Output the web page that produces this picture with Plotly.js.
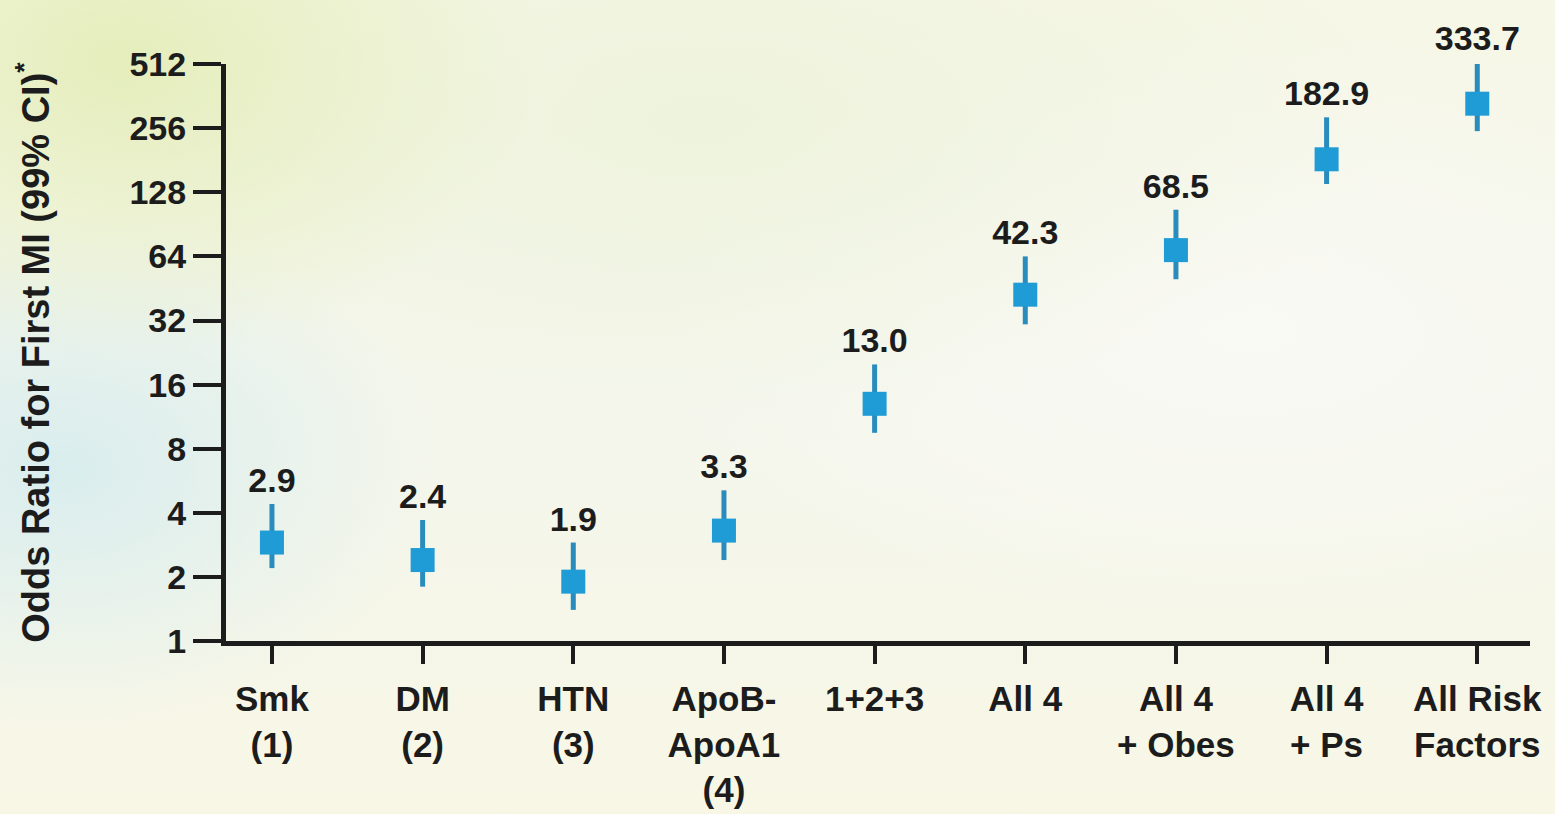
<!DOCTYPE html>
<html>
<head>
<meta charset="utf-8">
<script src="https://cdn.plot.ly/plotly-3.0.1.min.js"></script>
<style>
  html, body { margin: 0; padding: 0; width: 1555px; height: 814px; overflow: hidden; }
  body {
    background:
      radial-gradient(ellipse 420px 300px at 120px 60px, rgba(226,236,180,0.85), rgba(226,236,180,0) 100%),
      radial-gradient(ellipse 380px 260px at 60px 470px, rgba(214,236,238,0.9), rgba(214,236,238,0) 100%),
      radial-gradient(ellipse 700px 300px at 700px 120px, rgba(236,242,218,0.8), rgba(236,242,218,0) 100%),
      radial-gradient(ellipse 600px 300px at 1250px 330px, rgba(250,250,246,0.9), rgba(250,250,246,0) 100%),
      linear-gradient(180deg, #f6f7e6 0%, #f4f6ec 50%, #f8f7e6 100%);
  }
  #chart { width: 1555px; height: 814px; }
</style>
</head>
<body>
<div id="chart"></div>
<script>
// ---- data ----
const categories = ["Smk<br>(1)", "DM<br>(2)", "HTN<br>(3)", "ApoB-<br>ApoA1<br>(4)", "1+2+3", "All 4", "All 4<br>+ Obes", "All 4<br>+ Ps", "All Risk<br>Factors"];
const oddsRatio = [2.9, 2.4, 1.9, 3.3, 13.0, 42.3, 68.5, 182.9, 333.7];
const ciUpper = [4.4, 3.7, 2.9, 5.1, 19.9, 64, 106, 288, 523];
const ciLower = [2.2, 1.8, 1.4, 2.4, 9.5, 30.7, 50, 140, 248];
const valueLabels = ["2.9", "2.4", "1.9", "3.3", "13.0", "42.3", "68.5", "182.9", "333.7"];
const yTickVals = [1, 2, 4, 8, 16, 32, 64, 128, 256, 512];
const yTickText = ["1", "2", "4", "8", "16", "32", "64", "128", "256", "512"];

// ---- styles ----
const FONT = "Liberation Sans, Arial, sans-serif";
const INK = "#1c1c1c";
const BLUE = "#1f9bd6";
const BAR = "#2a8cbc";

// visible axis: 1..512 over the lower 90% of the plot height;
// hidden label axis: 1..1024 over the full height (same px per doubling)
const AXIS_TOP = 512;
const LABEL_AXIS_TOP = 1024;
const axisShare = Math.log(AXIS_TOP) / Math.log(LABEL_AXIS_TOP);

const pointTrace = {
  type: "scatter",
  mode: "markers",
  x: categories,
  y: oddsRatio,
  xaxis: "x",
  yaxis: "y",
  marker: { symbol: "square", size: 24, color: BLUE },
  error_y: {
    type: "data",
    symmetric: false,
    array: oddsRatio.map((v, i) => ciUpper[i] - v),
    arrayminus: oddsRatio.map((v, i) => v - ciLower[i]),
    color: BAR,
    thickness: 5,
    width: 0
  },
  cliponaxis: false,
  hoverinfo: "x+y"
};

const labelTrace = {
  type: "scatter",
  mode: "markers+text",
  x: categories,
  y: ciUpper,
  xaxis: "x",
  yaxis: "y2",
  text: valueLabels,
  textposition: "top center",
  texttemplate: "<b>%{text}</b>",
  textfont: { family: FONT, size: 34, color: INK },
  marker: { size: 4, opacity: 0, color: BLUE },
  cliponaxis: false,
  hoverinfo: "skip"
};

const layout = {
  width: 1555,
  height: 814,
  paper_bgcolor: "rgba(0,0,0,0)",
  plot_bgcolor: "rgba(0,0,0,0)",
  margin: { l: 226, r: 25, t: 0, b: 173 },
  showlegend: false,
  font: { family: FONT, color: INK },
  xaxis: {
    type: "category",
    range: [-0.305, 8.35],
    anchor: "y",
    showgrid: false,
    zeroline: false,
    showline: true,
    linecolor: INK,
    linewidth: 5,
    ticks: "outside",
    ticklen: 18,
    tickwidth: 4,
    tickcolor: INK,
    ticklabelstandoff: 5,
    tickfont: { family: FONT, size: 35, color: INK, weight: "bold" },
    fixedrange: true
  },
  yaxis: {
    type: "log",
    domain: [0, axisShare],
    range: [0, Math.log10(AXIS_TOP)],
    anchor: "x",
    tickvals: yTickVals,
    ticktext: yTickText,
    showgrid: false,
    zeroline: false,
    showline: true,
    linecolor: INK,
    linewidth: 5,
    ticks: "outside",
    ticklen: 28,
    tickwidth: 4,
    tickcolor: INK,
    tickfont: { family: FONT, size: 34, color: INK, weight: "bold" },
    title: {
      text: "<b>Odds Ratio for First MI (99% CI)<sup>*</sup></b>",
      font: { family: FONT, size: 38, color: INK },
      standoff: 70
    },
    fixedrange: true
  },
  yaxis2: {
    type: "log",
    domain: [0, 1],
    range: [0, Math.log10(LABEL_AXIS_TOP)],
    anchor: "x",
    visible: false,
    showgrid: false,
    zeroline: false,
    fixedrange: true
  }
};

Plotly.newPlot("chart", [pointTrace, labelTrace], layout, { displayModeBar: false, staticPlot: true });
</script>
</body>
</html>
